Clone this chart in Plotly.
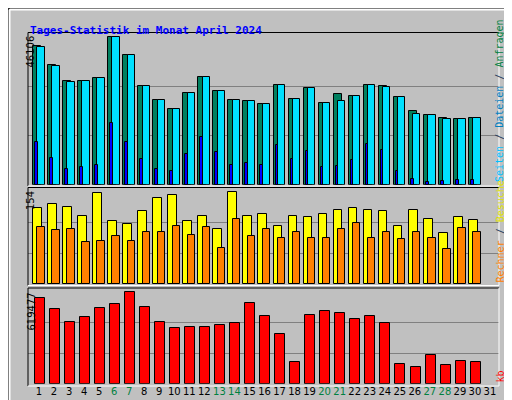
import plotly.graph_objects as go

days = list(range(1, 31))
day_labels = [str(d) for d in range(1, 32)]
weekend = {6, 7, 13, 14, 20, 21, 27, 28}

anfragen = [43292, 37348, 32344, 32344, 33282, 46106, 40476, 30780, 26400, 23585,
            28590, 33595, 29215, 26400, 26088, 25149, 31092, 26713, 30154, 25462,
            28277, 27652, 31092, 30780, 27339, 22960, 21708, 20770, 20457, 20770]
dateien = [42979, 37036, 32031, 32344, 33282, 46106, 40476, 30780, 26400, 23585,
           28590, 33595, 29215, 26400, 26088, 25149, 31092, 26713, 30154, 25462,
           26088, 27652, 31092, 30467, 27339, 22021, 21708, 20457, 20457, 20770]
seiten = [13263, 8258, 4817, 5443, 6068, 19206, 13263, 7945, 4817, 4192,
          9509, 14827, 10135, 6068, 6694, 6068, 12324, 7945, 10448, 5443,
          5756, 7632, 12637, 10760, 4192, 1689, 845, 1064, 1376, 1376]
besuche = [127, 134, 130, 115, 152, 105, 100, 122, 144, 149, 105, 115, 92, 154, 114,
           117, 97, 115, 112, 117, 124, 127, 125, 122, 97, 125, 110, 85, 112, 107]
rechner = [95, 90, 92, 70, 73, 80, 73, 87, 88, 97, 82, 95, 60, 109, 80,
           92, 77, 87, 77, 77, 92, 102, 78, 87, 75, 87, 78, 58, 94, 87]
kb = [578790, 504180, 416000, 449920, 510960, 538090, 619477, 517740, 416000, 375310,
      382090, 382090, 395660, 409220, 544880, 456700, 334610, 144700, 463480, 490620,
      477050, 436350, 456700, 409220, 131130, 110780, 192180, 124350, 151480, 144700]

W, H = 512, 400
def px(x): return x / W
def py(y): return 1 - y / H

fig = go.Figure()
line = dict(color="black", width=1)
def bar(y, color, off, wid, ax):
    fig.add_trace(go.Bar(x=days, y=y, marker=dict(color=color, line=line),
                         offset=off, width=wid, xaxis="x" if ax == 1 else f"x{ax}",
                         yaxis="y" if ax == 1 else f"y{ax}", showlegend=False))

bar(anfragen, "#007F5F", -0.4, 0.53, 1)
bar(dateien, "#00E0FF", -0.113, 0.49, 1)
bar(seiten, "#0000FF", -0.266, 0.18, 1)
bar(besuche, "#FFFF00", -0.4, 0.58, 2)
bar(rechner, "#FF8000", -0.113, 0.49, 2)
bar(kb, "#FF0000", -0.286, 0.665, 3)

xr = [0.268, 31.6]
xcommon = dict(range=xr, domain=[px(20), px(491)], showgrid=False, zeroline=False,
               showline=False, ticks="", automargin=False)
ticktext = [f'<span style="color:#008040">{d}</span>' if int(d) in weekend else d for d in day_labels]
ycommon = dict(showticklabels=False, gridcolor="#808080", zeroline=False, showline=False,
               ticks="", automargin=False)

fig.update_layout(
    width=W, height=H, margin=dict(l=0, r=0, t=0, b=0, pad=0, autoexpand=False),
    paper_bgcolor="#C0C0C0", plot_bgcolor="#C0C0C0", barmode="overlay", bargap=0,
    xaxis=dict(**xcommon, anchor="y", showticklabels=False),
    xaxis2=dict(**xcommon, anchor="y2", showticklabels=False),
    xaxis3=dict(**xcommon, anchor="y3", tickvals=list(range(1, 32)), ticktext=ticktext,
                tickangle=0, ticklen=0,
                tickfont=dict(family="DejaVu Sans", size=10, color="black")),
    yaxis=dict(**ycommon, range=[0, 46106 * 151.7 / 147.4], domain=[py(176.7), py(25)], anchor="x",
               tickvals=[46106 / 3, 2 * 46106 / 3]),
    yaxis2=dict(**ycommon, range=[0, 154 * 96 / 91.7], domain=[py(276), py(180)], anchor="x2",
                tickvals=[154 / 3, 2 * 154 / 3]),
    yaxis3=dict(**ycommon, range=[0, 619477 * 94.7 / 91.3], domain=[py(375.7), py(281)], anchor="x3",
                tickvals=[619477 / 3, 2 * 619477 / 3]),
)

shapes = []
def pline(x0, y0, x1, y1, c, w=1):
    shapes.append(dict(type="line", xref="paper", yref="paper", x0=px(x0), y0=py(y0),
                       x1=px(x1), y1=py(y1), line=dict(color=c, width=w)))
pline(0.5, 0.5, 511.5, 0.5, "black"); pline(0.5, 0.5, 0.5, 399.5, "black")
pline(511.5, 0, 511.5, 400, "black"); pline(0, 399.5, 512, 399.5, "black")
pline(1.5, 1.5, 508, 1.5, "white", 2); pline(1.5, 1.5, 1.5, 396, "white", 2)
shapes.append(dict(type="rect", xref="paper", yref="paper", x0=px(506), x1=px(511),
                   y0=py(4), y1=py(399), fillcolor="#808080", line=dict(width=0)))
shapes.append(dict(type="rect", xref="paper", yref="paper", x0=px(4), x1=px(511),
                   y0=py(395), y1=py(399), fillcolor="#808080", line=dict(width=0)))
for (t, b) in [(24.5, 178), (179.5, 277.5), (280, 378)]:
    pline(20, t, 491, t, "black"); pline(20, t, 20, b, "black")
    pline(491, t, 491, b, "white"); pline(20, b, 491, b, "white")
fig.update_layout(shapes=shapes)

ann = [
    dict(x=px(20), y=py(14), text="<b>Tages-Statistik im Monat April 2024</b>", xanchor="left",
         font=dict(family="DejaVu Sans Mono", size=11, color="#0000FF")),
    dict(x=px(15), y=py(26), text="46106", textangle=-90, yanchor="top"),
    dict(x=px(15), y=py(181), text="154", textangle=-90, yanchor="top"),
    dict(x=px(15), y=py(283), text="619477", textangle=-90, yanchor="top"),
    dict(x=px(499), y=py(176), yanchor="bottom", textangle=-90,
         text='<span style="color:#00C0FF">Seiten</span> / <span style="color:#0080C0">Dateien</span> / <span style="color:#008040">Anfragen</span>',
         font=dict(family="DejaVu Sans Mono", size=10)),
    dict(x=px(499), y=py(277), yanchor="bottom", textangle=-90,
         text='<span style="color:#FF8000">Rechner</span> / <span style="color:#E0E000">Besuche</span>',
         font=dict(family="DejaVu Sans Mono", size=10)),
    dict(x=px(499), y=py(377), yanchor="bottom", textangle=-90,
         text='<span style="color:#FF0000">kb</span>',
         font=dict(family="DejaVu Sans Mono", size=10)),
]
for a in ann:
    a.setdefault("font", dict(family="DejaVu Sans", size=10, color="black"))
    a.update(xref="paper", yref="paper", showarrow=False)
fig.update_layout(annotations=ann)

fig.write_html("out.html")
